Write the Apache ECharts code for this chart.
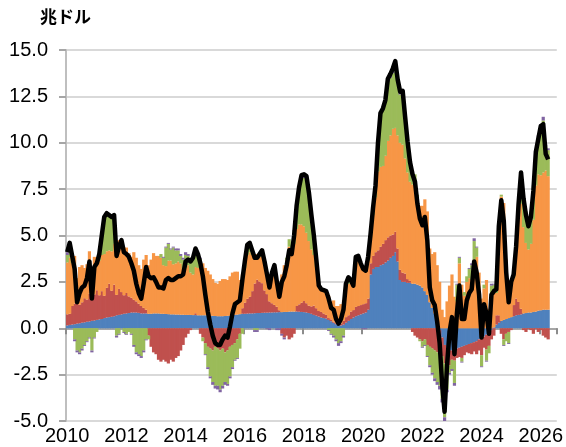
<!DOCTYPE html>
<html>
<head>
<meta charset="utf-8">
<script src="https://cdn.jsdelivr.net/npm/echarts@6/dist/echarts.min.js"></script>
<style>
  html, body { margin: 0; padding: 0; background: #fff; }
  #chart { width: 566px; height: 447px; }
</style>
</head>
<body>
<div id="chart"></div>
<script>
// monthly, Jan 2010 .. Apr 2026 (one row = one year)
var total = [
  4.1, 4.6, 3.9, 3.2, 1.4, 1.9, 2.2, 2.3, 2.7, 3.6, 1.6, 3.3,
  3.5, 4.0, 5.0, 6.0, 6.2, 6.1, 6.0, 6.1, 3.9, 4.4, 4.75, 4.1,
  4.0, 3.85, 3.5, 3.1, 2.4, 1.9, 1.6, 2.4, 3.3, 2.8, 2.7, 2.75,
  2.5, 2.2, 2.2, 2.15, 2.6, 2.7, 2.6, 2.6, 2.7, 2.8, 2.8, 2.9,
  3.6, 3.7, 3.6, 3.8, 4.3, 4.0, 3.5, 2.8, 1.8, 0.9, 0.2, -0.4,
  -0.8, -0.9, -0.9, -0.6, -0.4, -0.5, 0.1, 0.8, 1.3, 1.4, 1.5, 2.6,
  3.6, 4.5, 4.6, 4.2, 3.8, 3.8, 4.0, 4.2, 3.6, 2.9, 2.2, 3.0,
  3.4, 2.5, 1.7, 2.5, 2.8, 3.4, 4.2, 4.0, 5.0, 6.6, 7.6, 8.25,
  8.3, 8.2, 7.3, 6.1, 5.0, 3.7, 2.3, 2.1, 2.05, 2.0, 1.6, 1.1,
  1.0, 0.5, 0.25, 0.5, 1.0, 2.4, 2.75, 2.6, 2.3, 3.85, 3.9, 3.5,
  3.2, 3.1, 3.85, 5.1, 6.5, 7.7, 10.0, 11.6, 11.85, 12.3, 13.45, 13.7,
  14.0, 14.4, 13.4, 12.75, 12.8, 11.4, 10.05, 8.95, 8.3, 7.9, 6.7, 5.9,
  5.55, 6.0, 4.75, 2.2, 1.5, 1.25, 0.35, -0.8, -3.0, -4.5, -2.0, -0.2,
  0.6, -1.4, 0.8, 2.3, 0.5, 0.5, 1.5, 1.9, 2.1, 3.6, 3.0, 1.8,
  -0.5, 1.3, 0.8, -0.3, 1.8, 2.0, 2.1, 5.5, 6.9, 5.8, 3.0, 1.4,
  2.5, 2.9, 4.4, 6.7, 8.4, 7.0, 6.1, 5.5, 6.0, 7.4, 9.5, 10.2,
  10.9, 11.0, 9.4, 9.1
];
var blue = [
  0.15, 0.18, 0.2, 0.22, 0.25, 0.27, 0.3, 0.32, 0.35, 0.37, 0.4, 0.42,
  0.45, 0.48, 0.5, 0.55, 0.58, 0.6, 0.62, 0.65, 0.7, 0.72, 0.75, 0.78,
  0.8, 0.82, 0.85, 0.85, 0.85, 0.83, 0.8, 0.8, 0.8, 0.78, 0.78, 0.8,
  0.8, 0.8, 0.78, 0.78, 0.77, 0.76, 0.75, 0.75, 0.74, 0.74, 0.73, 0.73,
  0.72, 0.72, 0.72, 0.71, 0.71, 0.7, 0.7, 0.7, 0.7, 0.69, 0.68, 0.67,
  0.66, 0.65, 0.65, 0.65, 0.66, 0.67, 0.68, 0.7, 0.72, 0.74, 0.76, 0.78,
  0.78, 0.79, 0.8, 0.8, 0.81, 0.82, 0.82, 0.83, 0.84, 0.84, 0.85, 0.85,
  0.86, 0.86, 0.87, 0.87, 0.88, 0.88, 0.9, 0.9, 0.9, 0.9, 0.89, 0.88,
  0.87, 0.85, 0.82, 0.78, 0.72, 0.68, 0.63, 0.58, 0.55, 0.52, 0.45, 0.38,
  0.3, 0.22, 0.17, 0.15, 0.2, 0.3, 0.4, 0.5, 0.58, 0.65, 0.7, 0.75,
  0.8, 0.85, 1.0, 2.9, 3.2, 3.3, 3.3, 3.4, 3.45, 3.55, 3.65, 3.8,
  3.9, 4.1, 3.6, 2.6, 2.5, 2.5, 2.45, 2.45, 2.4, 2.4, 2.35, 2.3,
  2.2, 2.0, 1.8, 1.4, 1.1, 0.8, 0.4, -0.1, -0.5, -0.9, -1.1, -1.2,
  -1.2, -1.15, -1.1, -1.05, -1.0, -0.95, -0.9, -0.85, -0.8, -0.75, -0.7, -0.6,
  -0.55, -0.45, -0.35, -0.25, -0.1, 0.05, 0.2, 0.3, 0.4, 0.45, 0.5, 0.55,
  0.6, 0.65, 0.7, 0.72, 0.75, 0.8, 0.82, 0.85, 0.85, 0.88, 0.9, 0.95,
  0.97, 1.0, 1.0, 1.0
];
var red = [
  0.6, 0.6, 1.0, 1.1, 1.1, 1.0, 1.1, 1.3, 1.2, 1.5, 1.3, 1.4,
  1.6, 1.3, 1.5, 1.2, 1.6, 1.8, 1.4, 1.7, 1.1, 1.4, 1.2, 1.0,
  1.1, 0.9, 0.8, 0.7, 0.6, 0.5, 0.4, 0.3, 0.2, -0.4, -1.0, -1.3,
  -1.4, -1.7, -1.8, -1.7, -1.8, -1.9, -1.7, -1.8, -1.6, -1.5, -1.2, -0.9,
  -0.5, -0.3, -0.1, 0, 0.1, 0, -0.3, -0.5, -0.8, -1.0, -1.1, -1.2,
  -1.0, -1.1, -1.2, -1.1, -1.3, -1.2, -1.0, -0.9, -0.8, -0.6, -0.3, 0.3,
  0.6, 0.8, 0.9, 1.2, 1.6, 1.8, 1.7, 1.6, 1.2, 1.0, 0.6, 0.5,
  0.4, 0.3, 0.1, -0.3, -0.5, -0.4, -0.6, -0.5, -0.3, 0.3, 0.4, 0.5,
  0.6, 0.5, 0.4, 0.4, 0.5, 0.4, 0.3, 0.3, 0.25, 0.2, 0.1, 0.1,
  0.05, 0.05, 0, 0.1, 0.2, 0.3, 0.3, 0.4, 0.4, 0.5, 0.5, 0.5,
  0.5, 0.5, 0.6, 0.6, 0.7, 0.8, 0.9, 1.0, 1.1, 1.2, 1.25, 1.2,
  1.15, 1.1, 0.7, 0.55, 0.5, 0.45, 0.2, 0.1, -0.2, -0.4, -0.5, -0.6,
  -0.7, -0.6, -0.9, -1.0, -1.1, -1.2, -1.3, -1.2, -1.0, -1.0, -0.9, -0.8,
  -0.5, -0.6, -0.5, -0.5, -0.6, -0.5, -0.4, -0.5, -0.6, -0.5, -0.7, -0.6,
  -0.9, -0.6, -0.8, -0.7, -0.5, -0.4, 0.5, 0.4, -0.3, -0.6, -0.3, -0.2,
  -0.1, 0.6, 0.9, 0.7, 0.3, -0.1, -0.2, -0.05, -0.1, -0.3, -0.05, -0.2,
  -0.1, -0.4, -0.5, -0.6
];
var orange = [
  2.8, 3.02, 2.3, 2.58, 1.35, 2.03, 2.0, 1.63, 1.9, 2.28, 1.2, 2.03,
  1.65, 1.87, 1.95, 2.25, 1.97, 1.8, 2.13, 2.2, 2.6, 2.63, 2.7, 2.57,
  2.45, 2.33, 2.2, 2.55, 2.35, 2.07, 2.0, 2.6, 2.95, 2.62, 2.92, 3.25,
  3.1, 3.1, 3.02, 2.62, 2.58, 2.89, 2.9, 2.7, 2.76, 2.86, 2.77, 2.47,
  2.53, 2.68, 2.28, 2.19, 2.49, 2.55, 2.65, 2.8, 2.55, 2.41, 2.22, 1.98,
  1.79, 1.75, 1.9, 2.0, 1.99, 1.93, 2.12, 2.3, 2.33, 2.31, 1.84, 1.82,
  1.87, 2.36, 2.4, 1.95, 1.59, 1.38, 1.33, 1.52, 1.41, 1.11, 0.85, 1.55,
  1.89, 1.44, 0.83, 2.03, 2.52, 2.82, 3.5, 3.3, 3.65, 4.15, 4.31, 4.22,
  4.03, 3.8, 3.48, 3.07, 2.73, 2.22, 1.37, 1.22, 1.2, 1.18, 1.2, 0.97,
  1.15, 0.93, 1.03, 1.05, 1.1, 1.7, 1.7, 1.5, 1.32, 2.5, 2.5, 2.15,
  1.85, 1.7, 2.05, 1.4, 2.2, 2.95, 4.25, 4.3, 4.2, 4.55, 5.2, 5.4,
  5.7, 5.6, 6.1, 6.85, 6.9, 6.2, 5.75, 5.35, 5.35, 5.4, 4.65, 4.3,
  4.4, 4.95, 4.5, 2.9, 2.9, 3.3, 3.0, 2.5, 1.0, 0.6, 1.45, 2.3,
  2.9, 1.7, 1.45, 3.5, 2.35, 1.75, 2.5, 2.7, 2.6, 3.7, 3.85, 3.0,
  1.6, 2.15, 2.6, 1.05, 1.7, 1.9, 1.2, 4.7, 6.7, 6.3, 3.2, 1.7,
  1.9, 1.45, 2.7, 4.78, 5.65, 4.65, 3.78, 3.4, 3.7, 4.97, 6.8, 7.35,
  7.28, 7.4, 7.5, 7.2
];
var green = [
  0.4, 0.6, 0.3, -0.6, -1.2, -1.3, -1.1, -0.9, -0.7, -0.5, -1.2, -0.5,
  -0.2, 0.3, 1.0, 1.9, 1.9, 1.8, 1.8, 1.5, -0.4, -0.3, 0.1, -0.2,
  -0.3, -0.2, -0.3, -0.9, -1.3, -1.4, -1.5, -1.2, -0.6, -0.2, 0, 0,
  0, 0, 0.2, 0.4, 1.0, 0.9, 0.6, 0.9, 0.7, 0.6, 0.4, 0.5,
  0.7, 0.5, 0.6, 0.8, 0.9, 0.7, 0.4, -0.2, -0.6, -1.1, -1.5, -1.7,
  -2.1, -2.0, -2.1, -2.0, -1.6, -1.8, -1.6, -1.2, -0.9, -1.0, -0.8, -0.3,
  0.3, 0.5, 0.4, 0.2, -0.1, -0.1, 0.1, 0.2, 0.1, 0, 0, 0.1,
  0.2, 0, 0, 0, 0, 0.1, 0.4, 0.3, 0.7, 1.2, 1.9, 2.5,
  2.6, 2.9, 2.5, 1.8, 1.0, 0.4, 0, 0, 0.05, 0.1, -0.1, -0.3,
  -0.4, -0.6, -0.8, -0.7, -0.4, 0.1, 0.3, 0.2, 0, 0.2, 0.2, 0.1,
  0.1, 0.1, 0.2, 0.2, 0.4, 0.6, 1.5, 2.8, 3.0, 2.9, 3.2, 3.1,
  3.0, 3.4, 2.8, 2.6, 2.8, 2.2, 1.6, 1.0, 0.7, 0.5, 0.2, -0.1,
  -0.3, -0.3, -0.6, -1.0, -1.3, -1.5, -1.6, -1.8, -2.3, -2.9, -1.3, -0.4,
  -0.5, -1.2, 0.9, 0.3, -0.2, 0.2, 0.3, 0.5, 0.8, 1.0, 0.5, 0,
  -0.6, 0.2, -0.6, -0.4, 0.6, 0.4, 0.2, 0.1, 0.1, -0.3, -0.4, -0.6,
  0.1, 0.2, 0.1, 0.5, 1.6, 1.6, 1.7, 1.3, 1.5, 1.8, 1.8, 2.0,
  2.6, 2.8, 1.3, 1.4
];
var purple = [
  0.15, 0.2, 0.1, -0.1, -0.1, -0.1, -0.1, -0.05, -0.05, -0.05, -0.1, -0.05,
  0, 0.05, 0.05, 0.1, 0.15, 0.1, 0.05, 0.05, -0.1, -0.05, 0, -0.05,
  -0.05, 0, -0.05, -0.1, -0.1, -0.1, -0.1, -0.1, -0.05, 0, 0, 0,
  0, 0, 0, 0.05, 0.05, 0.05, 0.05, 0.05, 0.1, 0.1, 0.1, 0.1,
  0.15, 0.1, 0.1, 0.1, 0.1, 0.05, 0.05, 0, -0.05, -0.1, -0.1, -0.15,
  -0.15, -0.2, -0.15, -0.15, -0.15, -0.1, -0.1, -0.1, -0.05, -0.05, 0, 0,
  0.05, 0.05, 0.1, 0.05, -0.1, -0.1, 0.05, 0.05, 0.05, -0.05, -0.1, 0,
  0.05, -0.1, -0.1, -0.1, -0.1, 0, 0, 0, 0.05, 0.05, 0.1, 0.15,
  0.2, 0.15, 0.1, 0.05, 0.05, 0, 0, 0, 0, 0, -0.05, -0.05,
  -0.1, -0.1, -0.15, -0.1, -0.1, 0, 0.05, 0, 0, 0, 0, 0,
  -0.05, -0.05, 0, 0, 0, 0.05, 0.05, 0.1, 0.1, 0.1, 0.15, 0.2,
  0.25, 0.2, 0.2, 0.15, 0.1, 0.05, 0.05, 0.05, 0.05, 0, 0, 0,
  -0.05, -0.05, -0.05, -0.1, -0.1, -0.15, -0.15, -0.2, -0.2, -0.3, -0.15, -0.1,
  -0.1, -0.15, 0.05, 0.05, -0.05, 0, 0, 0.05, 0.1, 0.15, 0.05, 0,
  -0.05, 0, -0.05, 0, 0.1, 0.05, 0, 0, 0, -0.05, 0, -0.05,
  0, 0, 0, 0, 0.1, 0.05, 0, 0, 0.05, 0.05, 0.05, 0.1,
  0.15, 0.2, 0.1, 0.1
];

var startYear = 2010;
var monthCount = 199; // axis runs to mid 2026
var months = [];
for (var i = 0; i < monthCount; i++) {
  var y = startYear + Math.floor(i / 12);
  var mo = (i % 12) + 1;
  months.push(y + '-' + (mo < 10 ? '0' + mo : mo));
}

var colors = {
  blue: '#4f81bd',
  red: '#c0504d',
  orange: '#f79646',
  green: '#9bbb59',
  purple: '#8064a2'
};

function barSeries(name, data, color) {
  return {
    name: name,
    type: 'bar',
    stack: 'all',
    data: data,
    // a little wider than one month so neighbours overlap and no seams show
    barWidth: 3.2,
    itemStyle: { color: color },
    emphasis: { disabled: true }
  };
}

var chart = echarts.init(document.getElementById('chart'));
var labelFont = 'Liberation Sans, Arial, sans-serif';

chart.setOption({
  animation: false,
  graphic: [{
    type: 'text',
    left: 40,
    top: 8,
    style: {
      text: '兆ドル',
      font: 'bold 17px "Noto Sans CJK JP"',
      fill: '#000'
    }
  }],
  grid: { left: 66, right: 5, top: 50, bottom: 26, containLabel: false },
  xAxis: {
    type: 'category',
    data: months,
    boundaryGap: true,
    axisLine: { show: true, lineStyle: { color: '#a6a6a6', width: 2 } },
    axisTick: {
      show: true,
      length: 6,
      interval: function (i) { return i % 24 === 0; },
      lineStyle: { color: '#8c8c8c', width: 2 }
    },
    axisLabel: {
      interval: function (i) { return i % 24 === 0; },
      formatter: function (v) { return v.slice(0, 4); },
      fontSize: 20,
      fontFamily: labelFont,
      color: '#000',
      margin: 5
    },
    splitLine: { show: false }
  },
  yAxis: {
    type: 'value',
    min: -5,
    max: 15,
    interval: 2.5,
    axisLine: { show: true, lineStyle: { color: '#bfbfbf', width: 2 } },
    axisTick: { show: true, length: 7, lineStyle: { color: '#a6a6a6', width: 2 } },
    axisLabel: {
      formatter: function (v) { return v.toFixed(1); },
      fontSize: 20,
      fontFamily: labelFont,
      color: '#000',
      margin: 18
    },
    splitLine: { show: true, lineStyle: { color: '#d9d9d9', width: 2 } }
  },
  series: [
    barSeries('blue', blue, colors.blue),
    barSeries('red', red, colors.red),
    barSeries('orange', orange, colors.orange),
    barSeries('green', green, colors.green),
    barSeries('purple', purple, colors.purple),
    {
      name: 'total',
      type: 'line',
      data: total,
      symbol: 'none',
      z: 10,
      lineStyle: { color: '#000', width: 4.5, join: 'round' },
      emphasis: { disabled: true }
    }
  ]
});
</script>
</body>
</html>
